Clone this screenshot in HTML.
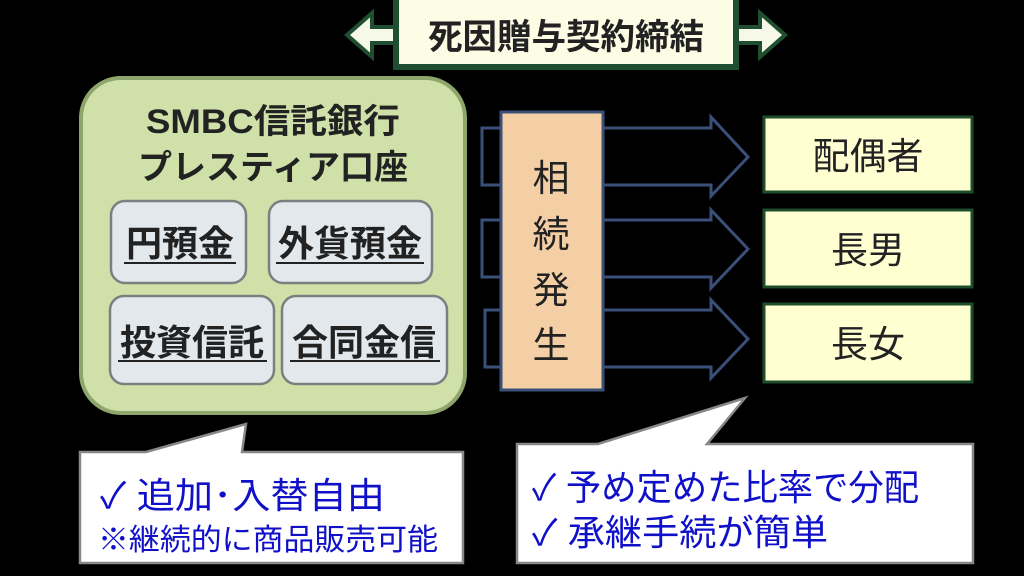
<!DOCTYPE html>
<html><head><meta charset="utf-8"><style>
html,body{margin:0;padding:0;background:#000;}
svg{display:block;}
text{font-family:"Liberation Sans","Noto Sans CJK JP",sans-serif;}
</style></head><body>
<svg width="1024" height="576" viewBox="0 0 1024 576" xmlns="http://www.w3.org/2000/svg">
<rect width="1024" height="576" fill="#000"/>
<polygon points="347,35 372,13 372,27 760,27 760,13 785,35 760,57 760,43 372,43 372,57" fill="#f6f8e8" stroke="#1f4f30" stroke-width="4"/>
<rect x="396" y="-4" width="340" height="71" fill="#fdfde6" stroke="#1f4f30" stroke-width="6"/>
<text x="566" y="49" font-size="35" font-weight="bold" fill="#222" text-anchor="middle" textLength="276" lengthAdjust="spacingAndGlyphs">死因贈与契約締結</text>
<rect x="81" y="78" width="384" height="335" rx="40" fill="#cfe0a8" stroke="#8ea56c" stroke-width="4"/>
<text x="273" y="133" font-size="34" font-weight="bold" fill="#222" text-anchor="middle" textLength="254" lengthAdjust="spacingAndGlyphs">SMBC信託銀行</text>
<text x="273" y="179" font-size="34" font-weight="bold" fill="#222" text-anchor="middle" textLength="270" lengthAdjust="spacingAndGlyphs">プレスティア口座</text>
<g fill="#e3e8ec" stroke="#7a7f80" stroke-width="2.5">
<rect x="111" y="201" width="135" height="82" rx="14"/>
<rect x="269" y="201" width="163" height="82" rx="14"/>
<rect x="110" y="296" width="164" height="88" rx="14"/>
<rect x="282" y="296" width="165" height="88" rx="14"/>
</g>
<g font-size="36" font-weight="bold" fill="#222" text-anchor="middle">
<text x="180" y="256">円預金</text>
<text x="350" y="256">外貨預金</text>
<text x="192" y="355">投資信託</text>
<text x="364" y="355">合同金信</text>
</g>
<g stroke="#222" stroke-width="2">
<line x1="124" y1="263" x2="236" y2="263"/>
<line x1="276" y1="263" x2="424" y2="263"/>
<line x1="118" y1="361" x2="267" y2="361"/>
<line x1="290" y1="361" x2="440" y2="361"/>
</g>
<g fill="#000" stroke="#3b5078" stroke-width="3">
<polygon points="482,128 711,128 711,117 748,157 711,196 711,185 482,185"/>
<polygon points="482,220 711,220 711,210 748,249 711,288 711,277 482,277"/>
<polygon points="485,310 711,310 711,300 748,339 711,378 711,367 485,367"/>
</g>
<rect x="501" y="112" width="102" height="278" fill="#f4cfa6" stroke="#3b5078" stroke-width="3"/>
<g font-size="37" fill="#222" text-anchor="middle">
<text x="551" y="191">相</text>
<text x="551" y="247">続</text>
<text x="551" y="303">発</text>
<text x="551" y="358">生</text>
</g>
<g fill="#ffffd2" stroke="#1e4d2b" stroke-width="3">
<rect x="764" y="117" width="208" height="75"/>
<rect x="764" y="210" width="208" height="77"/>
<rect x="764" y="304" width="208" height="78"/>
</g>
<g font-size="37" fill="#222" text-anchor="middle">
<text x="868" y="169">配偶者</text>
<text x="868" y="263">長男</text>
<text x="868" y="357">長女</text>
</g>
<polygon points="80,452 146,452 246,424 242,452 463,452 463,563 80,563" fill="#fff" stroke="#888" stroke-width="2.5"/>
<polygon points="517,444 598,444 745,398 707,444 973,444 973,563 517,563" fill="#fff" stroke="#888" stroke-width="2.5"/>
<g fill="#1010c8">
<text x="100" y="508" font-size="36" textLength="285" lengthAdjust="spacingAndGlyphs">✓ 追加･入替自由</text>
<text x="98" y="550" font-size="30" textLength="340" lengthAdjust="spacingAndGlyphs">※継続的に商品販売可能</text>
<text x="532" y="500" font-size="36" textLength="387" lengthAdjust="spacingAndGlyphs">✓ 予め定めた比率で分配</text>
<text x="532" y="545" font-size="36" textLength="296" lengthAdjust="spacingAndGlyphs">✓ 承継手続が簡単</text>
</g>
</svg>
</body></html>
